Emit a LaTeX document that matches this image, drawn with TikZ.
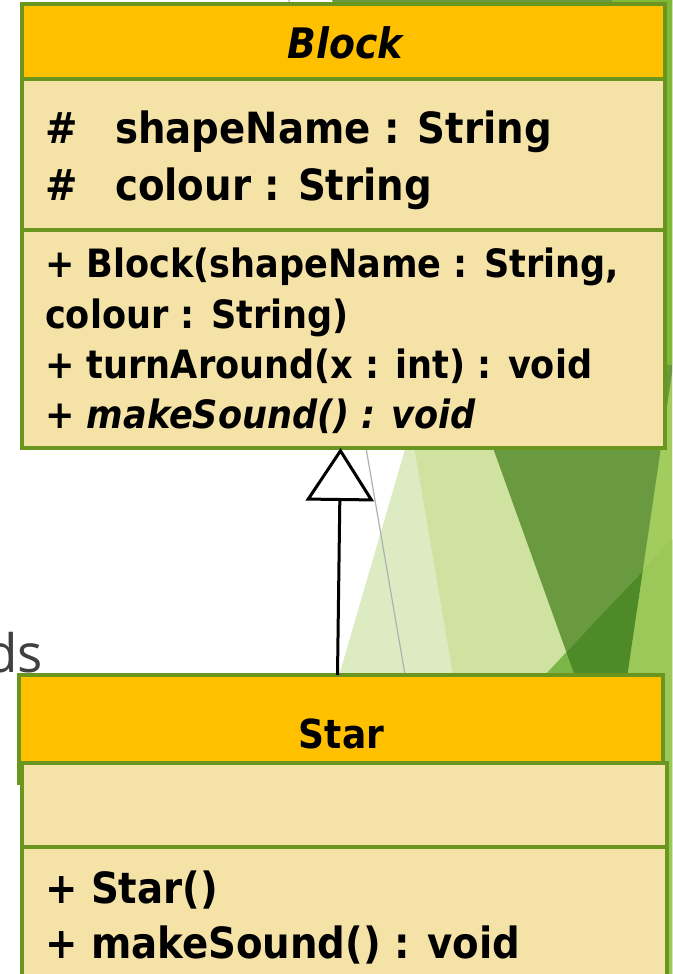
\documentclass[tikz,border=0pt]{standalone}
\usepackage{fontspec}
\setmainfont{DejaVu Sans Condensed}
\newfontfamily\dsfont{Open Sans}
\usetikzlibrary{arrows.meta}
\definecolor{hdrfill}{HTML}{FFC000}
\definecolor{bodyfill}{HTML}{F4E2A6}
\definecolor{umlgreen}{HTML}{6A961F}
\definecolor{bgA}{HTML}{DDEBC3}
\definecolor{bgB}{HTML}{CFE2A0}
\definecolor{bgC}{HTML}{A3CC5F}
\definecolor{bgD}{HTML}{6A9A40}
\definecolor{bgE}{HTML}{80B83A}
\definecolor{bgF}{HTML}{7AB648}
\definecolor{bgG}{HTML}{4F8A28}
\definecolor{bgH}{HTML}{9BC859}
\definecolor{dsgray}{HTML}{404040}
\definecolor{guide}{HTML}{B0B0B0}
\newcommand{\umlfont}{\fontsize{39}{46}\selectfont\bfseries}
\newcommand{\attrfont}{\fontsize{43}{50}\selectfont\bfseries}
\tikzset{
  txt/.style={anchor=base west, inner sep=0pt, font=\umlfont},
  bigtxt/.style={anchor=base west, inner sep=0pt, font=\attrfont},
  boxbase/.style={rectangle, inner sep=0pt, outer sep=0pt, draw=umlgreen, line width=4pt},
  headbox/.style={boxbase, fill=hdrfill},
  bodybox/.style={boxbase, fill=bodyfill},
  inherit/.style={line width=3pt, draw=black, -{Triangle[length=53pt, width=68pt, fill=white]}},
}
\begin{document}
\begin{tikzpicture}[x=1pt, y=-1pt]
\useasboundingbox (0,0) rectangle (672,974);
\begin{scope}
\clip (0,0) rectangle (672,974);
\fill[white] (0,0) rectangle (672,974);
% background decoration
\fill[bgA] (536,0) -- (252,974) -- (700,974) -- (700,0) -- cycle;
\fill[bgB] (338,0) -- (504,974) -- (700,974) -- (700,0) -- cycle;
\fill[bgC] (650,0) -- (700,0) -- (700,974) -- (600,974) -- cycle;
\fill[bgD] (332,0) -- (727,0) -- (612,779) -- cycle;
\fill[bgE] (612,-2) rectangle (680,365);
\begin{scope}
  \clip (700,510) -- (700,974) -- (264,974) -- cycle;
  \fill[bgF] (250,500) rectangle (700,974);
  \fill[bgH] (650,0) -- (700,0) -- (700,974) -- (600,974) -- cycle;
  \fill[bgG] (332,0) -- (727,0) -- (612,779) -- cycle;
\end{scope}
\draw[guide, line width=1.2pt] (289,0) -- (430,820);
\node[anchor=base east, inner sep=0pt, text=dsgray, font=\dsfont\fontsize{53}{60}\selectfont] (ds) at (43,672) {ds};
\end{scope}

% Block class
\node[headbox, minimum width=643pt, minimum height=75pt] (blockhead) at (343.5,41.5) {};
\node[bodybox, minimum width=643pt, minimum height=151pt] (blockattr) at (343.5,154.5) {};
\node[bodybox, minimum width=643pt, minimum height=218pt] (blockops) at (343.5,339) {};
\node[anchor=base, inner sep=0pt, font=\fontsize{42}{50}\selectfont\bfseries\itshape] (blockname) at (345,59) {Block};
\node[bigtxt] (h1) at (45,143) {\#};
\node[bigtxt] (a1) at (115,143) {shapeName : String};
\node[bigtxt] (h2) at (45,200) {\#};
\node[bigtxt] (a2) at (115,200) {colour : String};
\node[txt] (m1) at (45,277) {+ Block(shapeName : String,};
\node[txt] (m2) at (45,328) {colour : String)};
\node[txt] (m3) at (45,378) {+ turnAround(x : int) : void};
\node[txt] (m4) at (45,428) {+ \textit{makeSound() : void}};

% Star class
\node[headbox, minimum width=644pt, minimum height=108pt] (starhead) at (341,729) {};
\node[bodybox, minimum width=645pt, minimum height=84pt] (starattr) at (344.5,805) {};
\node[bodybox, minimum width=645pt, minimum height=150pt] (starops) at (344.5,922) {};
\node[anchor=base, inner sep=0pt, font=\fontsize{40}{46}\selectfont\bfseries] (starname) at (341.5,748) {Star};
\node[bigtxt] (s1) at (45,903) {+ Star()};
\node[bigtxt] (s2) at (45,958) {+ makeSound() : void};

% generalisation
\draw[inherit] ([xshift=-3.5pt]starhead.north) -- ([xshift=-3pt]blockops.south);
\end{tikzpicture}
\end{document}
